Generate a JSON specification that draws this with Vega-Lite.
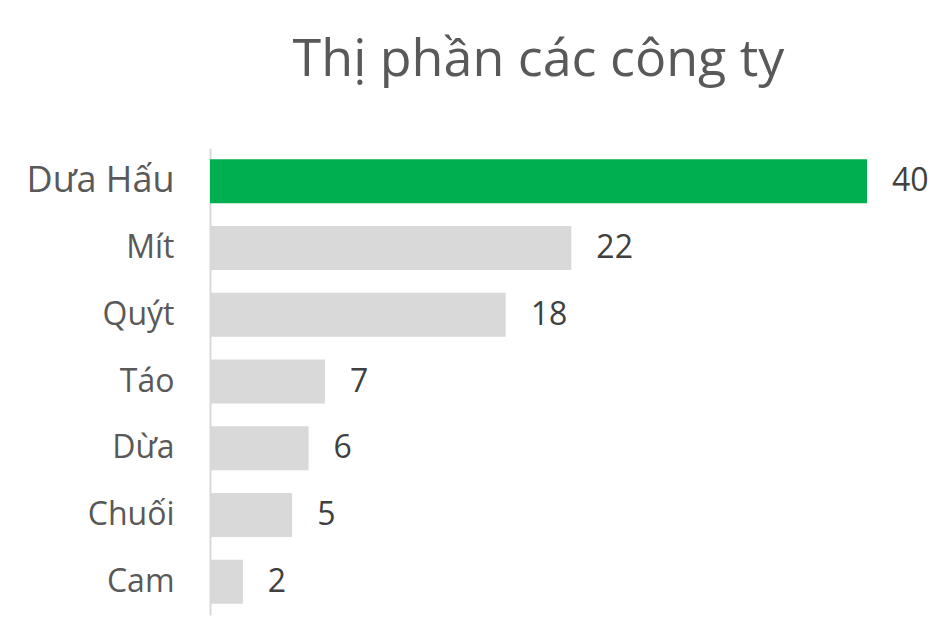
{
  "$schema": "https://vega.github.io/schema/vega-lite/v6.json",
  "autosize": "none",
  "padding": {"left": 210, "top": 148, "right": 85, "bottom": 23},
  "width": 657,
  "height": 467,
  "background": "white",
  "config": {"view": {"stroke": null}, "font": "Open Sans"},
  "title": {
    "text": "Thị phần các công ty",
    "anchor": "middle",
    "fontSize": 52,
    "fontWeight": "normal",
    "font": "Open Sans",
    "color": "#595959",
    "baseline": "alphabetic",
    "offset": 20
  },
  "data": {
    "values": [
      {"name": "Dưa Hấu", "value": 40},
      {"name": "Mít", "value": 22},
      {"name": "Quýt", "value": 18},
      {"name": "Táo", "value": 7},
      {"name": "Dừa", "value": 6},
      {"name": "Chuối", "value": 5},
      {"name": "Cam", "value": 2}
    ]
  },
  "encoding": {
    "y": {
      "field": "name",
      "type": "nominal",
      "sort": null,
      "title": null,
      "scale": {"paddingInner": 0.34, "paddingOuter": 0.17},
      "axis": {
        "ticks": false,
        "grid": false,
        "domainColor": "#d9d9d9",
        "domainWidth": 2,
        "labelPadding": 36,
        "labelColor": "#595959",
        "labelFont": "Open Sans",
        "labelFontSize": {"condition": {"test": "datum.value == 'Dưa Hấu'", "value": 36}, "value": 32}
      }
    },
    "x": {
      "field": "value",
      "type": "quantitative",
      "scale": {"domain": [0, 40], "nice": false},
      "axis": null
    }
  },
  "layer": [
    {
      "mark": {"type": "bar"},
      "encoding": {
        "color": {
          "condition": {"test": "datum.name == 'Dưa Hấu'", "value": "#00b050"},
          "value": "#d9d9d9"
        }
      }
    },
    {
      "mark": {"type": "text", "align": "left", "baseline": "middle", "dx": 25, "fontSize": 32, "color": "#404040", "font": "Open Sans"},
      "encoding": {"text": {"field": "value", "type": "quantitative"}}
    }
  ]
}
